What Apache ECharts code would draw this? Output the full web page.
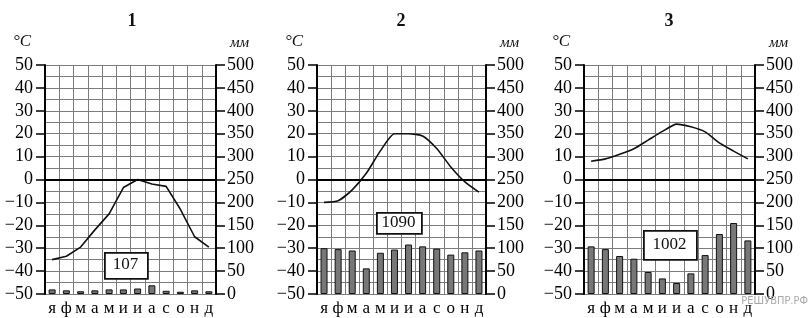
<!DOCTYPE html>
<html>
<head>
<meta charset="utf-8">
<script src="https://cdn.jsdelivr.net/npm/echarts@6/dist/echarts.min.js"></script>
<style>
  html, body { margin: 0; padding: 0; background: #fff; }
  #chart { width: 812px; height: 318px; }
</style>
</head>
<body>
<div id="chart"></div>
<script>
// months (Russian initials)
const months = ['я', 'ф', 'м', 'а', 'м', 'и', 'и', 'а', 'с', 'о', 'н', 'д']

// station 1
const temp1 = [-35, -33.5, -29.5, -22, -15, -3.5, 0, -2, -3, -13, -25, -29.5]
const prec1 = [10, 8, 6, 8, 10, 10, 12, 19, 7, 5, 8, 6]
// station 2
const temp2 = [-10, -9.3, -4.5, 2.7, 12.5, 20, 20, 19, 13.5, 5.5, -1, -5.5]
const prec2 = [100, 98, 95, 56, 90, 97, 108, 104, 99, 86, 91, 95]
// station 3
const temp3 = [8, 9, 11, 13.4, 17.2, 21, 24.2, 23, 20.8, 16, 12.4, 9]
const prec3 = [104, 98, 83, 77, 48, 34, 24, 45, 85, 131, 155, 117]

const chartTitles = ['1', '2', '3']
const yearTotals = ['107', '1090', '1002']
const tempUnit = '°C'
const precUnit = 'мм'

const temps = [temp1, temp2, temp3]
const precs = [prec1, prec2, prec3]

const serif = '"Liberation Serif", "DejaVu Serif", serif'
const gridColor = '#7c7c7c'

// layout of the three panels
const panels = [
  { left: 45, width: 171, box: [104, 252, 43, 26] },
  { left: 317, width: 169, box: [376, 212, 45, 21] },
  { left: 584, width: 171, box: [643, 230, 53, 29] },
]
const gridTop = 65
const gridHeight = 229

const chart = echarts.init(document.getElementById('chart'))

const grid = []
const xAxis = []
const yAxis = []
const series = []
const graphic = []

panels.forEach((p, i) => {
  grid.push({ left: p.left, top: gridTop, width: p.width, height: gridHeight })

  xAxis.push({
    type: 'category',
    gridIndex: i,
    data: months,
    boundaryGap: true,
    axisLine: { lineStyle: { color: '#000', width: 2 } },
    axisTick: { show: false },
    axisLabel: { color: '#000', fontFamily: serif, fontSize: 17, margin: 6, interval: 0 },
    splitLine: { show: true, interval: 0, lineStyle: { color: gridColor, width: 1 } },
  })

  yAxis.push({
    type: 'value',
    gridIndex: i,
    min: -50,
    max: 50,
    interval: 10,
    position: 'left',
    axisLine: { show: true, lineStyle: { color: '#000', width: 2 } },
    axisTick: { show: true, length: 9, lineStyle: { color: '#000', width: 1.5 } },
    axisLabel: {
      color: '#000',
      fontFamily: serif,
      fontSize: 18,
      margin: 12,
      formatter: (v) => String(v).replace('-', '\u2212'),
    },
    splitLine: { show: true, lineStyle: { color: gridColor, width: 1 } },
    minorTick: { show: false, splitNumber: 2 },
    minorSplitLine: { show: true, lineStyle: { color: gridColor, width: 1 } },
  })

  yAxis.push({
    type: 'value',
    gridIndex: i,
    min: 0,
    max: 500,
    interval: 50,
    position: 'right',
    axisLine: { show: true, lineStyle: { color: '#000', width: 2 } },
    axisTick: { show: true, length: 9, lineStyle: { color: '#000', width: 1.5 } },
    axisLabel: { color: '#000', fontFamily: serif, fontSize: 18, margin: 11 },
    splitLine: { show: false },
  })

  series.push({
    type: 'bar',
    xAxisIndex: i,
    yAxisIndex: i * 2 + 1,
    data: precs[i],
    barWidth: 7,
    itemStyle: { color: '#777', borderColor: '#111', borderWidth: 1 },
    silent: true,
    z: 3,
  })

  series.push({
    type: 'line',
    xAxisIndex: i,
    yAxisIndex: i * 2,
    data: temps[i],
    showSymbol: false,
    smooth: i === 0 ? false : 0.2,
    lineStyle: { color: '#111', width: 1.6 },
    silent: true,
    z: 4,
    markLine: {
      silent: true,
      symbol: 'none',
      label: { show: false },
      lineStyle: { color: '#000', width: 1.5, type: 'solid' },
      data: [{ yAxis: 0 }],
    },
  })

  const cx = p.left + p.width / 2
  graphic.push({
    type: 'text',
    left: cx - 5 + (i === 0 ? 2 : 0),
    top: 12,
    style: { text: chartTitles[i], font: 'bold 18px ' + serif, fill: '#111' },
  })
  graphic.push({
    type: 'text',
    left: p.left - 32,
    top: 33,
    style: { text: tempUnit, font: 'italic 17px ' + serif, fill: '#111' },
  })
  graphic.push({
    type: 'text',
    left: p.left + p.width + 14,
    top: 36,
    style: { text: precUnit, font: 'italic 15px ' + serif, fill: '#111' },
  })

  const [bx, by, bw, bh] = p.box
  graphic.push({
    type: 'rect',
    left: bx,
    top: by,
    z: 100,
    shape: { x: 0, y: 0, width: bw, height: bh },
    style: { fill: '#fff', stroke: '#111', lineWidth: 1.8 },
  })
  graphic.push({
    type: 'text',
    x: bx + bw / 2,
    y: by + bh / 2,
    z: 101,
    style: {
      text: yearTotals[i],
      font: '17px ' + serif,
      fill: '#111',
      textAlign: 'center',
      textVerticalAlign: 'middle',
    },
  })
})

graphic.push({
  type: 'text',
  right: 4,
  top: 296,
  z: 120,
  style: { text: 'РЕШУВПР.РФ', font: '11px "DejaVu Sans Condensed", "Liberation Sans Narrow", sans-serif', fill: '#a8a8a8' },
})

chart.setOption({
  animation: false,
  backgroundColor: '#fff',
  grid,
  xAxis,
  yAxis,
  series,
  graphic,
})
</script>
</body>
</html>
